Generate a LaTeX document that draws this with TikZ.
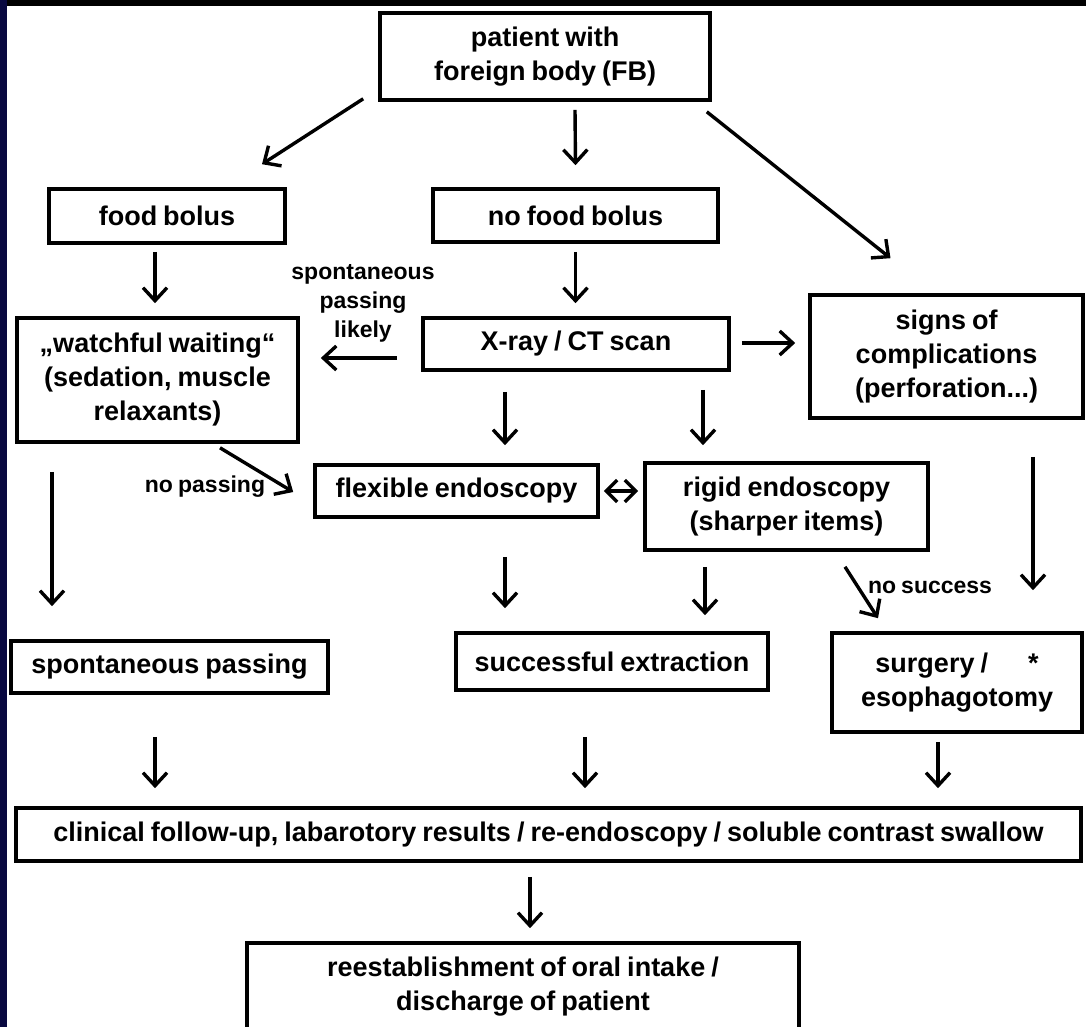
\documentclass[tikz,border=0pt]{standalone}
\usepackage{fontspec}
\setmainfont{Liberation Sans}[WordSpace=0.8]
\usetikzlibrary{arrows.meta}
\definecolor{navyband}{RGB}{8,8,64}
\begin{document}
\begin{tikzpicture}[x=1pt,y=-1pt,
  box/.style={draw, line width=3.6pt, inner sep=0pt, align=center,
    font=\fontsize{27}{34}\selectfont\bfseries},
  lbl/.style={inner sep=0pt, align=center, font=\fontsize{23}{29}\selectfont\bfseries},
  arr/.style={line width=3.4pt, -{Straight Barb[length=13pt,width=24pt]}},
  darr/.style={line width=3.4pt, {Straight Barb[length=11pt,width=22pt]}-{Straight Barb[length=11pt,width=22pt]}}]
\useasboundingbox (0,0) rectangle (1086,1027);
\fill[white] (0,0) rectangle (1086,1027);
\fill[black] (0,0) rectangle (1086,6);
\fill[navyband] (0,0) rectangle (7,1027);

% boxes
\node[box, minimum width=330pt, minimum height=87pt] (patient) at (545,56.5) {patient with\\foreign body (FB)};
\node[box, minimum width=236pt, minimum height=54pt] (food) at (167,216) {food bolus};
\node[box, minimum width=285pt, minimum height=53pt] (nofood) at (575.5,215.5) {no food bolus};
\node[box, minimum width=306pt, minimum height=52pt] (xray) at (576,344) {X-ray / CT scan};
\node[box, minimum width=281pt, minimum height=124pt] (watch) at (157.5,380) {„watchful waiting“\\(sedation, muscle\\relaxants)};
\node[box, minimum width=273pt, minimum height=123pt] (signs) at (946.5,356.5) {signs of\\complications\\(perforation...)};
\node[box, minimum width=283pt, minimum height=52pt] (flex) at (456.5,491) {flexible endoscopy};
\node[box, minimum width=283pt, minimum height=87pt] (rigid) at (786.5,506.5) {rigid endoscopy\\(sharper items)};
\node[box, minimum width=317pt, minimum height=52pt] (spont) at (169.5,667) {spontaneous passing};
\node[box, minimum width=312pt, minimum height=57pt] (success) at (612,661.5) {successful extraction};
\node[box, minimum width=250pt, minimum height=99pt] (surgery) at (957,682.5) {surgery /\hspace*{40pt}*\\esophagotomy};
\node[box, minimum width=1065pt, minimum height=53pt] (clinical) at (548.5,834.5) {clinical follow-up, labarotory results / re-endoscopy / soluble contrast swallow};
\node[box, minimum width=552pt, minimum height=87pt] (reest) at (523,986.5) {reestablishment of oral intake /\\discharge of patient};

% labels
\node[lbl] (lspont) at (363,303) {spontaneous\\passing\\likely};
\node[lbl] (lnopass) at (205,487) {no passing};
\node[lbl] (lnosucc) at (930,587) {no success};

% arrows
\draw[arr] ([shift={(-15,-3)}]patient.south west) -- ([shift={(95,-23)}]food.north);
\draw[arr] ([shift={(30,8)}]patient.south) -- ([shift={(0,-22)}]nofood.north);
\draw[arr] ([shift={(-5,10)}]patient.south east) -- ([shift={(-56,-35)}]signs.north);
\draw[arr] ([shift={(-12,7)}]food.south) -- ([shift={(-2.5,-13)}]watch.north);
\draw[arr] ([shift={(0,8)}]nofood.south) -- ([shift={(-0.5,-13)}]xray.north);
\draw[arr] ([shift={(-24,14)}]xray.west) -- ([shift={(21,-22)}]watch.east);
\draw[arr] ([shift={(11,-1)}]xray.east) -- ([shift={(-13,-13.5)}]signs.west);
\draw[arr] ([shift={(-71,20)}]xray.south) -- ([shift={(48.5,-18)}]flex.north);
\draw[arr] ([shift={(127,18)}]xray.south) -- ([shift={(-83.5,-16)}]rigid.north);
\draw[arr] ([shift={(62.5,4)}]watch.south) -- ([shift={(-20,1)}]flex.west);
\draw[darr] ([shift={(4,0)}]flex.east) -- ([shift={(-5,-15.5)}]rigid.west);
\draw[arr] ([shift={(-105.5,28)}]watch.south) -- ([shift={(-117.5,-33)}]spont.north);
\draw[arr] ([shift={(48.5,38)}]flex.south) -- ([shift={(-107,-23)}]success.north);
\draw[arr] ([shift={(-81.5,15)}]rigid.south) -- ([shift={(93,-16)}]success.north);
\draw[arr] ([shift={(58.5,15)}]rigid.south) -- ([shift={(-79,-13)}]surgery.north);
\draw[arr] ([shift={(86.5,37)}]signs.south) -- ([shift={(76,-41)}]surgery.north);
\draw[arr] ([shift={(-14.5,42)}]spont.south) -- ([shift={(-393.5,-18)}]clinical.north);
\draw[arr] ([shift={(-27,45)}]success.south) -- ([shift={(36.5,-18)}]clinical.north);
\draw[arr] ([shift={(-19,8)}]surgery.south) -- ([shift={(389.5,-18)}]clinical.north);
\draw[arr] ([shift={(-18.5,14)}]clinical.south) -- ([shift={(7,-13)}]reest.north);
\end{tikzpicture}
\end{document}
